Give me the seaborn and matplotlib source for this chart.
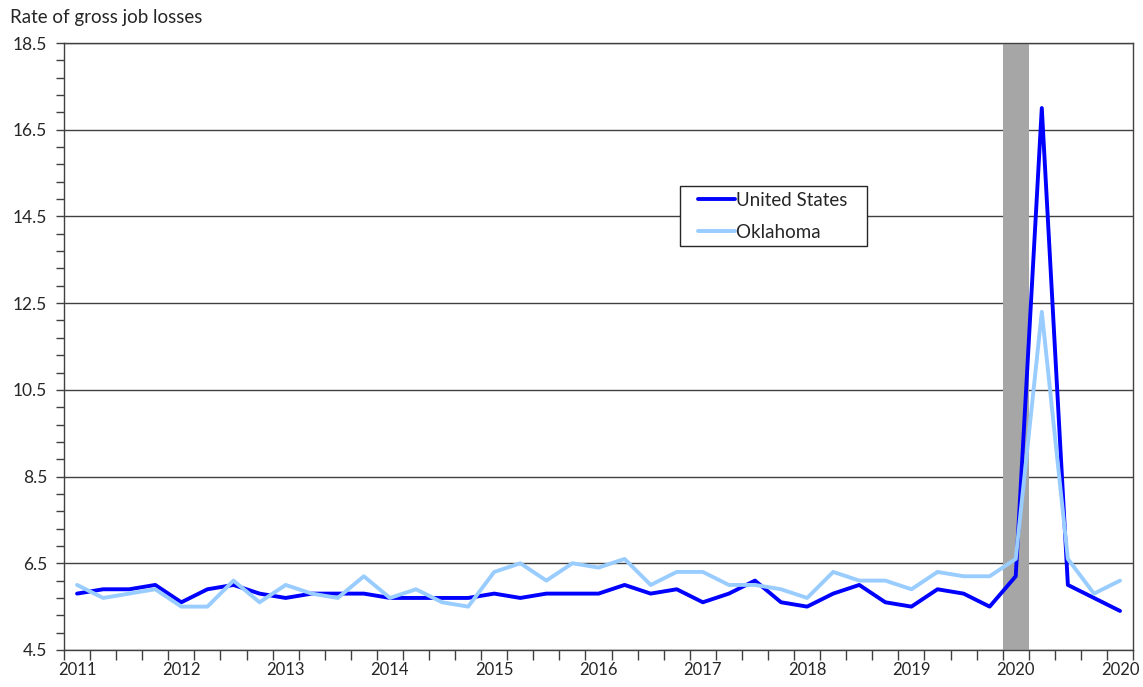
import numpy as np
import pandas as pd
import matplotlib
matplotlib.use("Agg")
import matplotlib.pyplot as plt
from matplotlib.ticker import FixedLocator, NullFormatter
from matplotlib.legend_handler import HandlerLine2D
from matplotlib.lines import Line2D
import seaborn as sns

# Quarterly rate of gross job losses, 2011 Q1 onwards (41 quarters)
us_rate = [5.8, 5.9, 5.9, 6.0, 5.6, 5.9, 6.0, 5.8, 5.7, 5.8,
           5.8, 5.8, 5.7, 5.7, 5.7, 5.7, 5.8, 5.7, 5.8, 5.8,
           5.8, 6.0, 5.8, 5.9, 5.6, 5.8, 6.1, 5.6, 5.5, 5.8,
           6.0, 5.6, 5.5, 5.9, 5.8, 5.5, 6.2, 17.0, 6.0, 5.7,
           5.4]
ok_rate = [6.0, 5.7, 5.8, 5.9, 5.5, 5.5, 6.1, 5.6, 6.0, 5.8,
           5.7, 6.2, 5.7, 5.9, 5.6, 5.5, 6.3, 6.5, 6.1, 6.5,
           6.4, 6.6, 6.0, 6.3, 6.3, 6.0, 6.0, 5.9, 5.7, 6.3,
           6.1, 6.1, 5.9, 6.3, 6.2, 6.2, 6.6, 12.3, 6.6, 5.8,
           6.1]
year_labels = ["2011", "2012", "2013", "2014", "2015", "2016",
               "2017", "2018", "2019", "2020", "2020"]
recession_quarter = 36  # 2020 Q1

quarter = np.arange(len(us_rate))
data = pd.DataFrame({
    "quarter": np.concatenate([quarter, quarter]),
    "rate": us_rate + ok_rate,
    "area": ["United States"] * len(us_rate) + ["Oklahoma"] * len(ok_rate),
})

sns.set_style("white")
plt.rcParams["font.family"] = ["Lato", "DejaVu Sans"]

fig = plt.figure(figsize=(11.43, 6.87), dpi=100)
ax = fig.add_axes([0.056, 0.0539, 0.9353, 0.8835])

# recession shading
ax.axvspan(recession_quarter - 0.5, recession_quarter + 0.5,
           color="#a6a6a6", zorder=1, lw=0)

sns.lineplot(data=data, x="quarter", y="rate", hue="area",
             hue_order=["United States", "Oklahoma"],
             palette={"United States": "#0000ff", "Oklahoma": "#99ccff"},
             linewidth=2.8, ax=ax, zorder=3)

ax.set_xlim(-0.5, len(us_rate) - 0.5)
ax.set_ylim(4.5, 18.5)

# y axis: majors every 2, minors every 0.4
ax.set_yticks(np.arange(4.5, 18.6, 2.0))
ax.set_yticklabels([f"{v:.1f}" for v in np.arange(4.5, 18.6, 2.0)])
ax.yaxis.set_minor_locator(FixedLocator(np.arange(4.5, 18.51, 0.4)))
ax.yaxis.grid(True, which="major", color="#404040", linewidth=1.0, zorder=0)
ax.set_axisbelow(True)

# x axis: labels at every 4th quarter, ticks at quarter boundaries
ax.set_xticks(quarter[::4])
ax.set_xticklabels(year_labels)
ax.xaxis.set_minor_locator(FixedLocator(np.arange(-0.5, len(us_rate), 1.0)))
ax.xaxis.set_minor_formatter(NullFormatter())

ax.tick_params(axis="x", which="major", length=0, labelsize=12, pad=9,
               colors="#262626")
ax.tick_params(axis="x", which="minor", length=7, width=1, color="#404040",
               direction="out", bottom=True)
ax.tick_params(axis="y", which="both", length=6, width=1, color="#404040",
               direction="out", left=True, labelsize=12.5, labelcolor="#262626",
               pad=6)

for side in ["left", "right", "top", "bottom"]:
    ax.spines[side].set_visible(True)
    ax.spines[side].set_color("#404040")
    ax.spines[side].set_linewidth(1.0)

ax.set_xlabel("")
ax.set_ylabel("")

# legend with extra room on the left of the line samples
handles, labels = ax.get_legend_handles_labels()
labels = [lab + "   " for lab in labels]
leg = ax.legend(handles, labels, loc="upper left",
                bbox_to_anchor=(0.576, 0.764),
                borderaxespad=0, fontsize=13.5, frameon=True, fancybox=False,
                handlelength=2.65, handletextpad=0.05, labelspacing=0.8,
                borderpad=0.3,
                handler_map={Line2D: HandlerLine2D(xpad=0.65)})
leg.get_frame().set_edgecolor("#262626")
leg.get_frame().set_linewidth(1.0)
leg.get_frame().set_alpha(1)
for text in leg.get_texts():
    text.set_color("#262626")

fig.text(0.009, 0.975, "Rate of gross job losses", fontsize=13.5,
         color="#262626", ha="left", va="center")

fig.savefig("out.png", dpi=100)
